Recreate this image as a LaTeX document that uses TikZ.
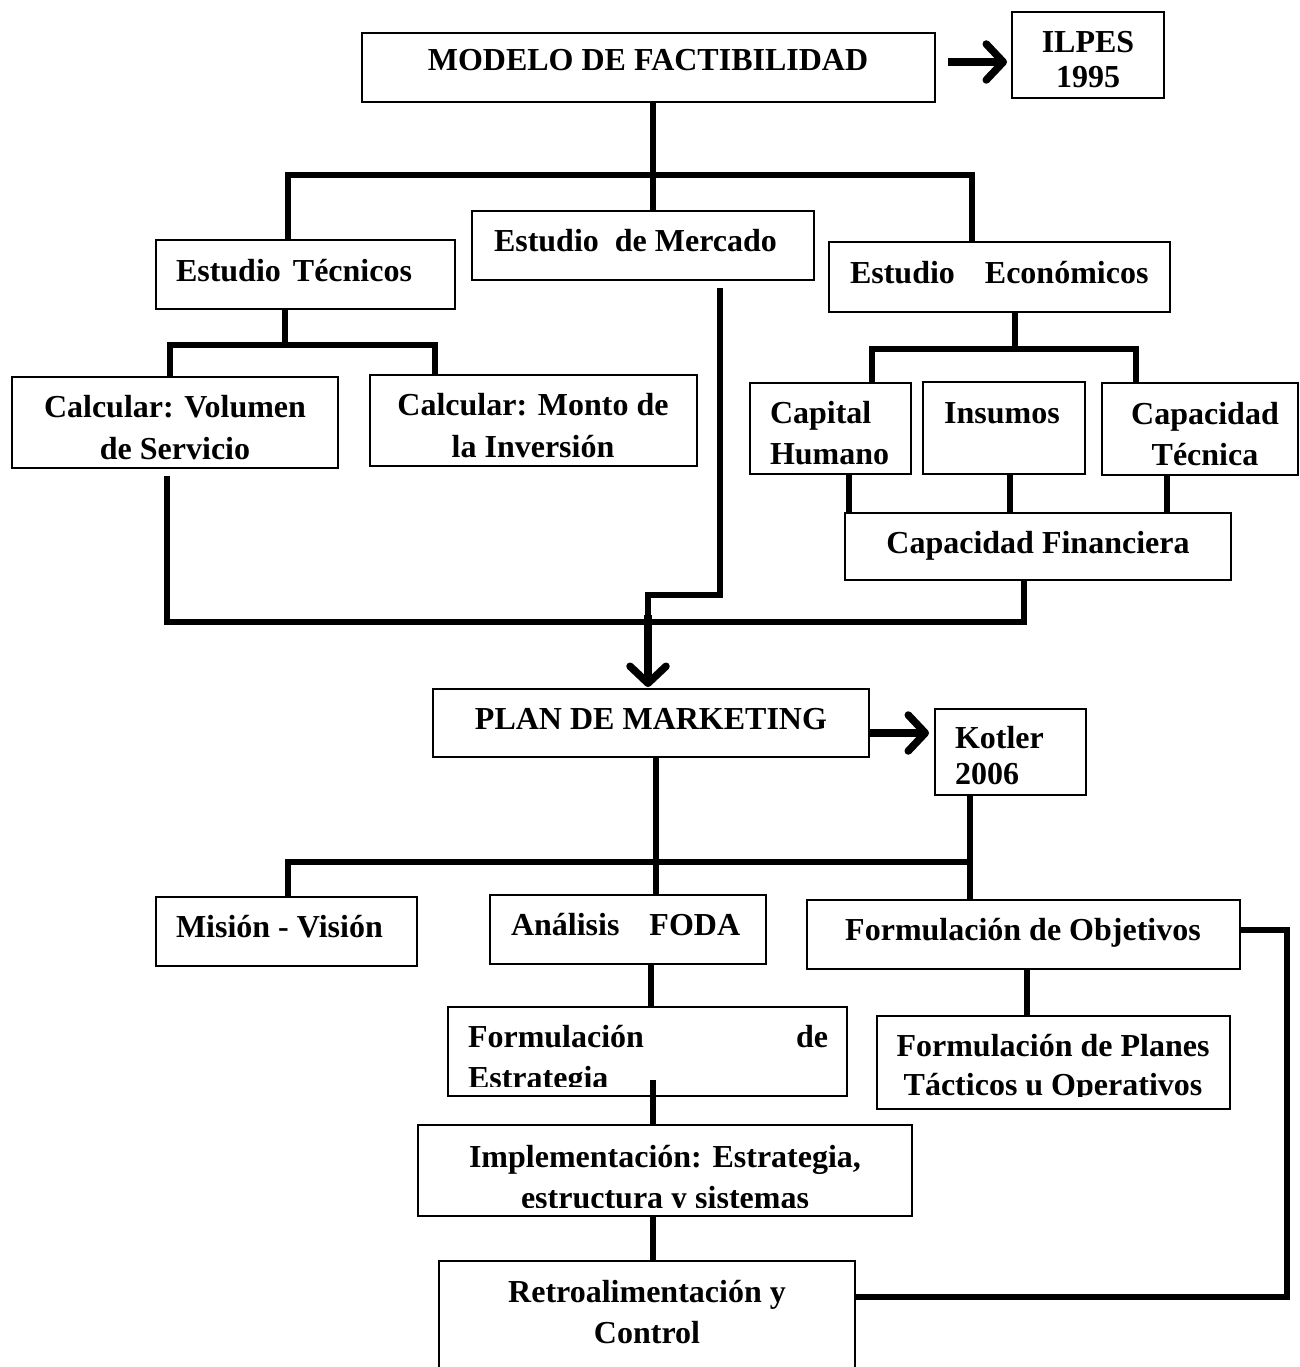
\documentclass[tikz,border=0pt]{standalone}
\usepackage{fontspec}
\setmainfont{Liberation Serif}
\usetikzlibrary{arrows.meta,calc}
\tikzset{
  box/.style={draw, line width=1.1pt, inner sep=0pt, outer sep=0pt},
  conn/.style={line width=5.5pt, line join=miter},
  arr/.style={line width=7.5pt, -{Straight Barb[length=17pt,width=36pt,round]}},
  txt/.style={inner sep=0pt, outer sep=0pt, font=\fontsize{32}{41}\selectfont\bfseries},
}
\newcommand{\mybox}[5]{\node[box, minimum width={#4-#2}, minimum height={#5-#3}] (#1) at ({(#2+#4)/2},{(#3+#5)/2}) {};}
\begin{document}
\begin{tikzpicture}[x=1pt,y=-1pt]
\fill[white] (0,0) rectangle (1299,1367);
\useasboundingbox (0,0) rectangle (1299,1367);

% boxes
\mybox{modelo}{362}{33}{935}{102}
\mybox{ilpes}{1012}{12}{1164}{98}
\mybox{tecnicos}{156}{240}{455}{309}
\mybox{mercado}{472}{211}{814}{280}
\mybox{economicos}{829}{242}{1170}{312}
\mybox{volumen}{12}{377}{338}{468}
\mybox{monto}{370}{375}{697}{466}
\mybox{capital}{750}{383}{911}{474}
\mybox{insumos}{923}{382}{1085}{474}
\mybox{captec}{1102}{383}{1298}{475}
\mybox{financiera}{845}{513}{1231}{580}
\mybox{plan}{433}{689}{869}{757}
\mybox{kotler}{935}{709}{1086}{795}
\mybox{mision}{156}{897}{417}{966}
\mybox{foda}{490}{895}{766}{964}
\mybox{objetivos}{807}{900}{1240}{969}
\mybox{estrategia}{448}{1007}{847}{1096}
\mybox{planes}{877}{1016}{1230}{1109}
\mybox{implem}{418}{1125}{912}{1216}
\mybox{retro}{439}{1261}{855}{1375}

% texts
\node[txt, anchor=base] (t-modelo) at (648,71) {MODELO DE FACTIBILIDAD};
\node[txt, anchor=base] (t-ilpes1) at (1088,53) {ILPES};
\node[txt, anchor=base] (t-ilpes2) at (1088,88) {1995};
\node[txt, anchor=base west] (t-tecnicos) at (176,281) {Estudio\hspace{12pt}Técnicos};
\node[txt, anchor=base west] (t-mercado) at (494,251) {Estudio\hspace{8pt} de Mercado};
\node[txt, anchor=base west] (t-economicos) at (850,283) {Estudio\hspace{30pt}Económicos};
\node[txt, anchor=base] (t-volumen1) at (175,417) {Calcular: Volumen};
\node[txt, anchor=base] (t-volumen2) at (175,459) {de Servicio};
\node[txt, anchor=base] (t-monto1) at (533,415) {Calcular: Monto de};
\node[txt, anchor=base] (t-monto2) at (533,457) {la Inversión};
\node[txt, anchor=base west] (t-capital1) at (770,423) {Capital};
\node[txt, anchor=base west] (t-capital2) at (770,464) {Humano};
\node[txt, anchor=base] (t-insumos) at (1002,423) {Insumos};
\node[txt, anchor=base] (t-captec1) at (1205,424) {Capacidad};
\node[txt, anchor=base] (t-captec2) at (1205,465) {Técnica};
\node[txt, anchor=base] (t-financiera) at (1038,553) {Capacidad Financiera};
\node[txt, anchor=base] (t-plan) at (651,729) {PLAN DE MARKETING};
\node[txt, anchor=base west] (t-kotler1) at (955,748) {Kotler};
\node[txt, anchor=base west] (t-kotler2) at (955,784) {2006};
\node[txt, anchor=base west] (t-mision) at (176,937) {Misión - Visión};
\node[txt, anchor=base west] (t-foda) at (511,935) {Análisis\hspace{30pt}FODA};
\node[txt, anchor=base] (t-objetivos) at (1023,940) {Formulación de Objetivos};
\node[txt, anchor=base west] (t-estrategia1) at (468,1047) {Formulación};
\node[txt, anchor=base east] (t-estrategia2) at (828,1047) {de};
\begin{scope}
  \clip (estrategia.north west) rectangle ($(estrategia.south east)+(0,-10)$);
  \node[txt, anchor=base west] (t-estrategia3) at (468,1088) {Estrategia};
\end{scope}
\node[txt, anchor=base] (t-planes1) at (1053,1056) {Formulación de Planes};
\begin{scope}
  \clip (planes.north west) rectangle ($(planes.south east)+(0,-13)$);
  \node[txt, anchor=base] (t-planes2) at (1053,1095) {Tácticos u Operativos};
\end{scope}
\node[txt, anchor=base] (t-implem1) at (665,1167) {Implementación: Estrategia,};
\begin{scope}
  \clip (implem.north west) rectangle ($(implem.south east)+(0,-8.5)$);
  \node[txt, anchor=base] (t-implem2) at (665,1208) {estructura y sistemas};
\end{scope}
\node[txt, anchor=base] (t-retro1) at (647,1302) {Retroalimentación y};
\node[txt, anchor=base] (t-retro2) at (647,1343) {Control};

% junction coordinates
\coordinate (b1m) at (653,175);
\coordinate (b1l) at (288,175);
\coordinate (b1r) at (972,175);
\coordinate (b2m) at (285,345);
\coordinate (b2l) at (170,345);
\coordinate (b2r) at (435,345);
\coordinate (b3m) at (1015,349);
\coordinate (b3l) at (872,349);
\coordinate (b3r) at (1136,349);
\coordinate (s1) at (849,0);
\coordinate (s2) at (1010,0);
\coordinate (s3) at (1167,0);
\coordinate (c1) at (167,622);
\coordinate (c2) at (1024,622);
\coordinate (m1) at (720,595);
\coordinate (m2) at (648,595);
\coordinate (d1) at (288,862);
\coordinate (d2) at (970,862);
\coordinate (d3) at (656,862);
\coordinate (e1) at (651,0);
\coordinate (e2) at (653,0);
\coordinate (o1) at (1027,0);
\coordinate (f1) at (1287,1297);
\coordinate (f2) at (1287,930);

% connectors
\draw[conn] (b1m |- modelo.south) -- (b1m |- mercado.north);
\draw[conn] (b1l |- tecnicos.north) -- (b1l) -- (b1r) -- (b1r |- economicos.north);
\draw[conn] (b2m |- tecnicos.south) -- (b2m);
\draw[conn] (b2l |- volumen.north) -- (b2l) -- (b2r) -- (b2r |- monto.north);
\draw[conn] (b3m |- economicos.south) -- (b3m);
\draw[conn] (b3l |- capital.north) -- (b3l) -- (b3r) -- (b3r |- captec.north);
\draw[conn] (s1 |- capital.south) -- (s1 |- financiera.north);
\draw[conn] (s2 |- insumos.south) -- (s2 |- financiera.north);
\draw[conn] (s3 |- captec.south) -- (s3 |- financiera.north);
\draw[conn, shorten <=8pt] (c1 |- volumen.south) -- (c1) -- (c2) -- (c2 |- financiera.south);
\draw[conn, shorten <=8pt] (m1 |- mercado.south) -- (m1) -- (m2) -- ($(m2)+(0,40)$);
\draw[arr, shorten >=2pt] ($(m2)+(0,20)$) -- (m2 |- plan.north);
\coordinate (q1) at ([yshift=5.5pt]modelo.east);
\draw[arr, shorten <=13pt, shorten >=5pt] (q1) -- (q1 -| ilpes.west);
\coordinate (p1) at ([yshift=-10pt]plan.east);
\draw[arr, shorten >=6pt] (p1) -- (p1 -| kotler.west);
\draw[conn] (d3 |- plan.south) -- (d3 |- foda.north);
\draw[conn] (d1 |- mision.north) -- (d1) -- (d2);
\draw[conn] (d2 |- kotler.south) -- (d2 |- objetivos.north);
\draw[conn] (e1 |- foda.south) -- (e1 |- estrategia.north);
\draw[conn] ($(e2 |- estrategia.south)+(0,-16)$) -- (e2 |- implem.north);
\draw[conn] (o1 |- objetivos.south) -- (o1 |- planes.north);
\draw[conn] (e2 |- implem.south) -- (e2 |- retro.north);
\draw[conn] (f1 -| retro.east) -- (f1) -- (f2) -- (f2 -| objetivos.east);
\end{tikzpicture}
\end{document}
